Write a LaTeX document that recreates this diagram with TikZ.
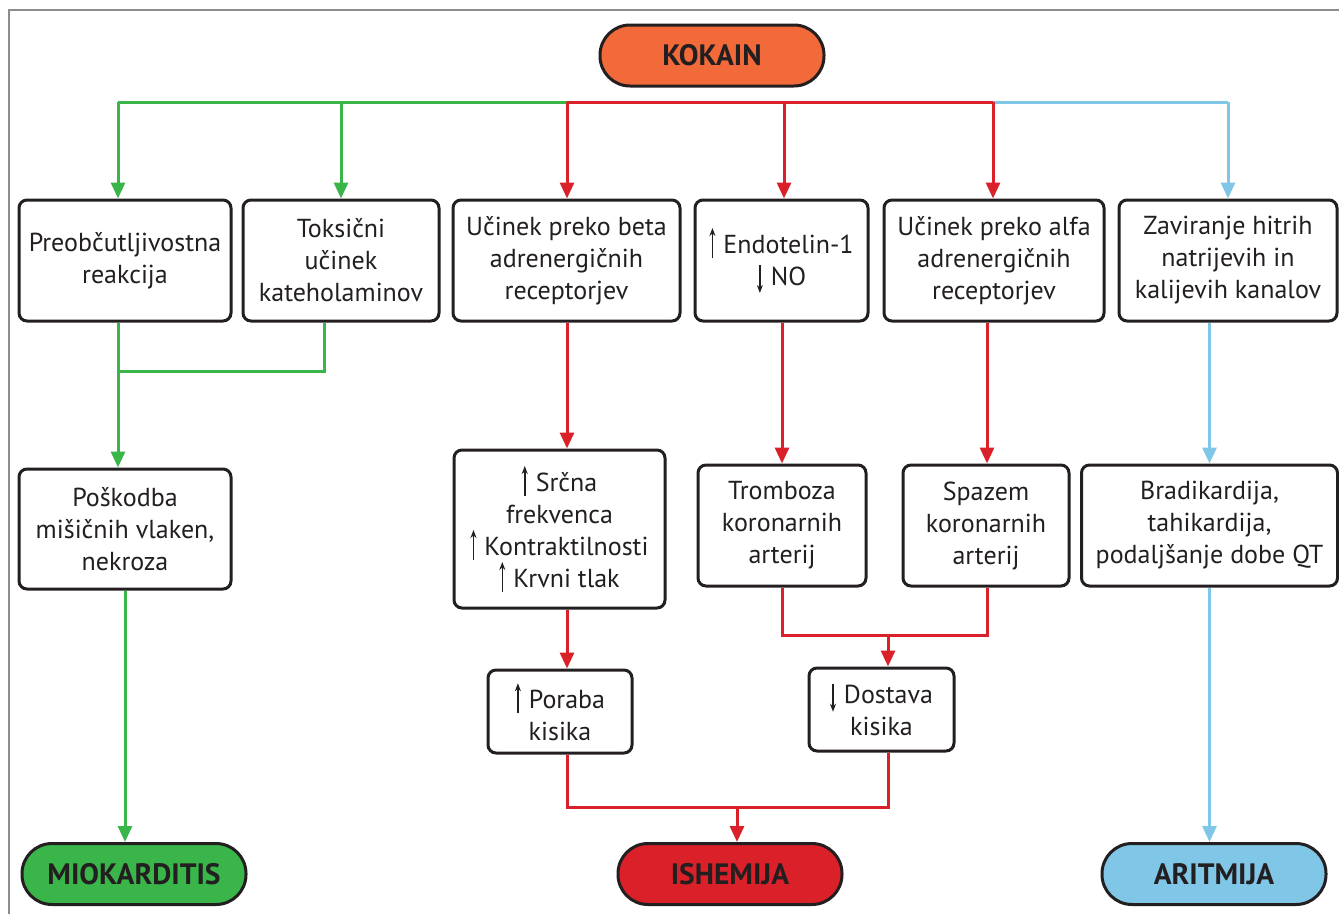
\documentclass[tikz,border=0pt]{standalone}
\usepackage{fontspec}
\setmainfont{PT Sans}
\usetikzlibrary{arrows.meta,calc}
\definecolor{dark}{RGB}{35,31,32}
\definecolor{cgreen}{RGB}{57,181,74}
\definecolor{cred}{RGB}{218,32,40}
\definecolor{cblue}{RGB}{128,198,230}
\definecolor{corange}{RGB}{242,106,58}
\definecolor{frame}{RGB}{140,140,140}
\newcommand{\upar}{\tikz[baseline=0pt]\draw[line width=1.5pt,dark,-{Stealth[length=8pt,width=6pt]}] (0pt,-5pt)--(0pt,25pt);\hspace{8pt}}
\newcommand{\dnar}{\tikz[baseline=0pt]\draw[line width=1.5pt,dark,-{Stealth[length=8pt,width=6pt]}] (0pt,20pt)--(0pt,-8pt);\hspace{8pt}}
\begin{document}
\begin{tikzpicture}[x=1pt,y=-1pt,
  box/.style={draw=dark,line width=3pt,rounded corners=8pt,fill=white,align=center,inner sep=0pt,
    font=\fontsize{26}{32}\selectfont,text=dark},
  pill/.style={draw=dark,line width=3pt,rounded corners=30pt,align=center,inner sep=0pt,
    minimum width=224pt,minimum height=61pt,font=\fontsize{29.5}{34}\selectfont\bfseries,text=dark},
  con/.style={line width=3pt},
  arr/.style={con,-{Triangle[length=16pt,width=14pt]}},
  gc/.style={draw=cgreen},
  rc/.style={draw=cred},
  bc/.style={draw=cblue}]
\useasboundingbox (0,0) rectangle (1339,914);
\fill[white] (0,0) rectangle (1339,914);
\draw[frame,line width=1.5pt] (9,914) -- (9,10) -- (1339,10);

% nodes
\node[pill,fill=corange] (kokain) at (712,55.5) {KOKAIN};

\node[box,minimum width=212pt,minimum height=121pt] (preob) at (125,260.5) {Preobčutljivostna\\reakcija};
\node[box,minimum width=196pt,minimum height=121pt] (toks) at (341,260.5) {Toksični\\učinek\\kateholaminov};
\node[box,minimum width=227pt,minimum height=121pt] (beta) at (566.5,260.5) {Učinek preko beta\\adrenergičnih\\receptorjev};
\node[box,minimum width=173pt,minimum height=121pt] (endo) at (781.5,260.5) {\upar Endotelin-1\\\dnar NO};
\node[box,minimum width=220pt,minimum height=121pt] (alfa) at (994,260.5) {Učinek preko alfa\\adrenergičnih\\receptorjev};
\node[box,minimum width=218pt,minimum height=121pt] (zav) at (1228,260.5) {Zaviranje hitrih\\natrijevih in\\kalijevih kanalov};

\node[box,minimum width=212pt,minimum height=120pt] (posk) at (125,529) {Poškodba\\mišičnih vlaken,\\nekroza};
\node[box,minimum width=211pt,minimum height=158pt] (srcna) at (559.5,529) {\upar Srčna\\frekvenca\\\upar Kontraktilnosti\\\upar Krvni tlak};
\node[box,minimum width=168pt,minimum height=121pt] (tromb) at (782,525.5) {Tromboza\\koronarnih\\arterij};
\node[box,minimum width=166pt,minimum height=121pt] (spaz) at (986,525.5) {Spazem\\koronarnih\\arterij};
\node[box,minimum width=256pt,minimum height=121pt] (brad) at (1209.5,525.5) {Bradikardija,\\tahikardija,\\podaljšanje dobe QT};

\node[box,minimum width=144pt,minimum height=83pt] (poraba) at (560,711.5) {\upar Poraba\\kisika};
\node[box,minimum width=145pt,minimum height=83pt] (dostava) at (881.5,709.5) {\dnar Dostava\\kisika};

\node[pill,fill=cgreen] (miok) at (134,874) {MIOKARDITIS};
\node[pill,fill=cred] (ishem) at (730,874) {ISHEMIJA};
\node[pill,fill=cblue] (aritm) at (1214,874) {ARITMIJA};

% bus coordinates
\coordinate (b1) at (118,102);
\coordinate (b2) at (567,102);
\coordinate (b3) at (993,102);
\coordinate (b4) at (1228,102);
\coordinate (gj) at (118,371);
\coordinate (tj) at (324,371);
\coordinate (ex) at (784,102);
\coordinate (dj) at (888,635);
\coordinate (tl) at (782,635);
\coordinate (sr) at (987,635);
\coordinate (il) at (567,807);
\coordinate (ir) at (888,807);
\coordinate (ij) at (737,807);

% top bus
\draw[con,gc] (b1) -- (b2);
\draw[con,rc] (b2) -- (b3);
\draw[con,bc] (b3) -- (b4);
\draw[arr,gc] (b1) -- (b1 |- preob.north);
\draw[arr,gc] (toks.north |- b1) -- (toks.north);
\draw[arr,rc] (b2) -- (b2 |- beta.north);
\draw[arr,rc] (ex) -- (ex |- endo.north);
\draw[arr,rc] (b3) -- (b3 |- alfa.north);
\draw[arr,bc] (b4) -- (b4 |- zav.north);

% green branch
\draw[con,gc] (tj |- toks.south) -- (tj) -- (gj);
\draw[arr,gc] (gj |- preob.south) -- (gj |- posk.north);
\draw[arr,gc] (posk.south) -- (posk.south |- miok.north);

% red branch
\draw[arr,rc] (b2 |- beta.south) -- (b2 |- srcna.north);
\draw[arr,rc] (b2 |- srcna.south) -- (b2 |- poraba.north);
\draw[arr,rc] (tl |- endo.south) -- (tl |- tromb.north);
\draw[arr,rc] (sr |- alfa.south) -- (sr |- spaz.north);
\draw[con,rc] (tl |- tromb.south) -- (tl) -- (sr) -- (sr |- spaz.south);
\draw[arr,rc] (dj) -- (dj |- dostava.north);
\draw[con,rc] (il |- poraba.south) -- (il) -- (ir) -- (ir |- dostava.south);
\draw[arr,rc] (ij) -- (ij |- ishem.north);

% blue branch
\draw[arr,bc] (brad.north |- zav.south) -- (brad.north);
\draw[arr,bc] (brad.south) -- (brad.south |- aritm.north);
\end{tikzpicture}
\end{document}
